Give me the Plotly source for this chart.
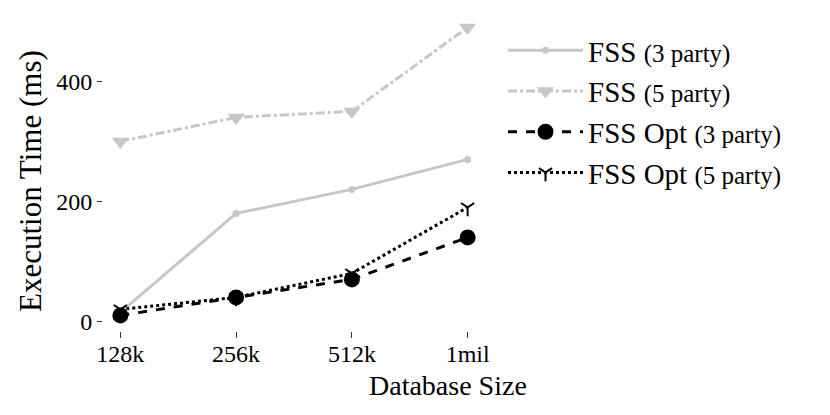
import plotly.graph_objects as go

categories = ["128k", "256k", "512k", "1mil"]
fss_3 = [15, 180, 220, 270]
fss_5 = [300, 340, 350, 490]
fss_opt_3 = [10, 40, 70, 140]
fss_opt_5 = [20, 40, 80, 190]
y_ticks = [0, 200, 400]

FONT = "Liberation Serif"
GREY = "#c5c9c1"

def lab(name, party):
    return f"{name} <span style='font-size:25px'>({party})</span>"

x_idx = list(range(len(categories)))
fig = go.Figure()
fig.add_trace(go.Scatter(x=x_idx, y=fss_3, mode="lines+markers", name=lab("FSS", "3 party"),
                         legendgroup="a",
                         line=dict(color=GREY, width=3, dash="solid"),
                         marker=dict(symbol="circle", size=7, color=GREY)))
fig.add_trace(go.Scatter(x=x_idx, y=fss_5, mode="lines+markers", name=lab("FSS", "5 party"),
                         legendgroup="b",
                         line=dict(color=GREY, width=3, dash="dashdot"),
                         marker=dict(symbol="triangle-down", size=15, color=GREY)))
fig.add_trace(go.Scatter(x=x_idx, y=fss_opt_3, mode="lines+markers", name=lab("FSS Opt", "3 party"),
                         legendgroup="c",
                         line=dict(color="black", width=3, dash="dash"),
                         marker=dict(symbol="circle", size=16, color="black")))
fig.add_trace(go.Scatter(x=x_idx, y=fss_opt_5, mode="lines+markers", name=lab("FSS Opt", "5 party"),
                         legendgroup="d",
                         line=dict(color="black", width=3, dash="dot"),
                         marker=dict(symbol="y-down", size=11, color="black",
                                     line=dict(color="black", width=2))))

L, R, T, B = 103, 345, 13, 84
PW, PH = 830 - L - R, 415 - T - B

fig.update_layout(
    width=830, height=415,
    margin=dict(l=L, r=R, t=T, b=B),
    plot_bgcolor="white", paper_bgcolor="white",
    font=dict(family=FONT, size=24, color="black"),
    showlegend=True,
    legend=dict(x=(503 - L) / PW, y=(415 - B - 25) / PH, xanchor="left", yanchor="top",
                font=dict(family=FONT, size=29, color="black"),
                itemwidth=75,
                tracegroupgap=0, bgcolor="rgba(0,0,0,0)"),
    xaxis=dict(tickmode="array", tickvals=x_idx, ticktext=categories,
               range=[-0.15, 3.15], showgrid=False, zeroline=False, showline=False,
               ticks="outside", ticklen=6, tickwidth=1, tickcolor="#333",
               ticklabelstandoff=-5,
               tickfont=dict(family=FONT, size=24), automargin=False),
    yaxis=dict(tickmode="array", tickvals=y_ticks, ticktext=[str(v) for v in y_ticks],
               range=[-16, 514], showgrid=False, zeroline=False, showline=False,
               ticks="outside", ticklen=5, tickwidth=1, tickcolor="#333",
               tickfont=dict(family=FONT, size=24), automargin=False),
    annotations=[
        dict(text="Database Size", xref="paper", yref="paper",
             x=(448 - L) / PW, y=-(385 - (415 - B)) / PH,
             xanchor="center", yanchor="middle", showarrow=False,
             font=dict(family=FONT, size=28)),
        dict(text="Execution Time (ms)", xref="paper", yref="paper",
             x=(30 - L) / PW, y=((415 - B) - 181) / PH, textangle=-90,
             xanchor="center", yanchor="middle", showarrow=False,
             font=dict(family=FONT, size=31)),
    ],
)

fig.write_html("out.html", config={"displayModeBar": False},
               post_script="document.body.style.margin='0';")
